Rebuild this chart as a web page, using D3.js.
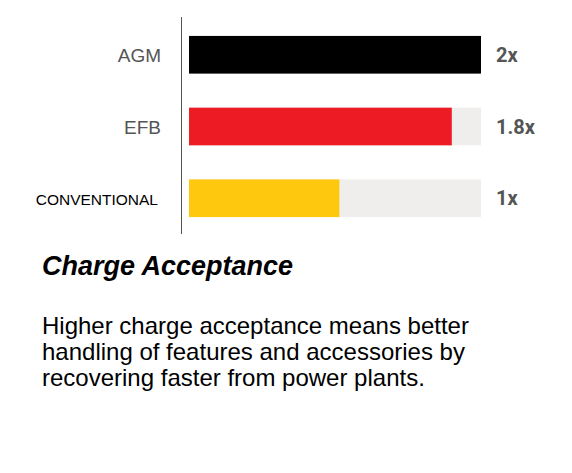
<!DOCTYPE html>
<html>
<head>
<meta charset="utf-8">
<script src="https://cdn.jsdelivr.net/npm/d3@7"></script>
<style>
  html, body { margin: 0; padding: 0; background: #fff; }
  svg { display: block; }
</style>
</head>
<body>
<script>
const categories = ["AGM", "EFB", "CONVENTIONAL"];
const values = [2, 1.8, 1.03];
const valueLabels = ["2x", "1.8x", "1x"];
const maxValue = 2;
const barColors = ["#000000", "#ed1c24", "#fec80e"];
const title = "Charge Acceptance";
const bodyLines = [
  "Higher charge acceptance means better",
  "handling of features and accessories by",
  "recovering faster from power plants."
];

const W = 572, H = 473;
const svg = d3.select("body").append("svg").attr("width", W).attr("height", H);

const x = d3.scaleLinear().domain([0, maxValue]).range([189, 481]);
const y = d3.scaleBand().domain(categories).range([18, 235]).paddingInner(0.475).paddingOuter(0.25);

// background tracks
svg.selectAll("rect.track").data(categories).join("rect")
  .attr("class", "track")
  .attr("x", x(0)).attr("width", x(maxValue) - x(0))
  .attr("y", d => y(d)).attr("height", y.bandwidth())
  .attr("fill", "#efeeec");

// bars
svg.selectAll("rect.bar").data(categories).join("rect")
  .attr("class", "bar")
  .attr("x", x(0))
  .attr("width", (d, i) => x(values[i]) - x(0))
  .attr("y", d => y(d)).attr("height", y.bandwidth())
  .attr("fill", (d, i) => barColors[i]);

// axis line
svg.append("line")
  .attr("x1", 181.5).attr("x2", 181.5).attr("y1", 17).attr("y2", 234)
  .attr("stroke", "#555").attr("stroke-width", 1);

// category labels
svg.selectAll("text.cat").data(categories).join("text")
  .attr("class", "cat")
  .attr("x", (d, i) => i === 2 ? 158 : 161)
  .attr("y", d => y(d) + y.bandwidth() / 2 + 7)
  .attr("text-anchor", "end")
  .attr("font-family", "'Liberation Sans', Arial, sans-serif")
  .attr("font-size", (d, i) => i === 2 ? 15.5 : 19)
  .attr("fill", (d, i) => i === 2 ? "#000" : "#555")
  .text(d => d);

// value labels
svg.selectAll("text.val").data(categories).join("text")
  .attr("class", "val")
  .attr("x", 496)
  .attr("y", d => y(d) + y.bandwidth() / 2 + 7)
  .attr("font-family", "Roboto, sans-serif")
  .attr("font-weight", 700)
  .attr("font-size", 20)
  .attr("fill", "#555")
  .text((d, i) => valueLabels[i]);

// title
svg.append("text")
  .attr("x", 42).attr("y", 275)
  .attr("font-family", "'Liberation Sans', Arial, sans-serif")
  .attr("font-weight", 700).attr("font-style", "italic")
  .attr("font-size", 27).attr("fill", "#000")
  .text(title);

// body
svg.selectAll("text.body").data(bodyLines).join("text")
  .attr("class", "body")
  .attr("x", 42).attr("y", (d, i) => 334 + i * 26)
  .attr("font-family", "'Liberation Sans', Arial, sans-serif")
  .attr("font-size", 24).attr("fill", "#000")
  .text(d => d);
</script>
</body>
</html>
